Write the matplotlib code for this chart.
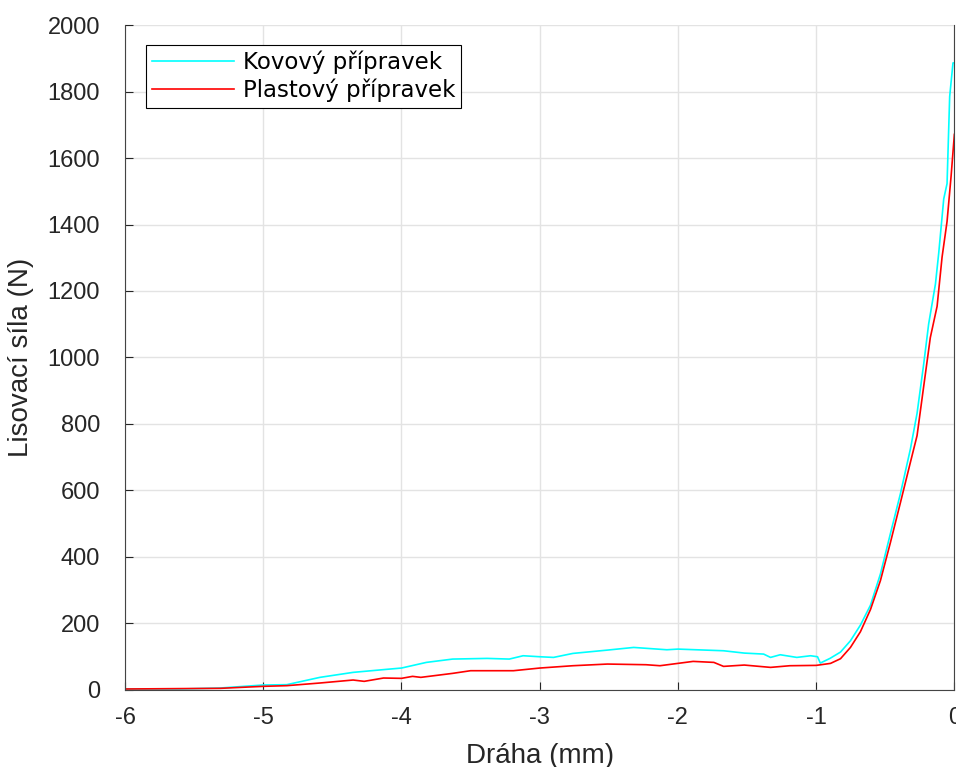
import numpy as np
import matplotlib.pyplot as plt

# Kovovy pripravek (cyan)
x_kov = [-6.0, -5.6, -5.31, -5.0, -4.83, -4.59, -4.35, -4.11, -4.0, -3.82, -3.63, -3.38,
         -3.22, -3.12, -3.0, -2.9, -2.76, -2.51, -2.32, -2.08, -2.0, -1.67, -1.52, -1.38,
         -1.33, -1.26, -1.14, -1.04, -0.99, -0.97, -0.90, -0.824, -0.752, -0.680, -0.607,
         -0.535, -0.463, -0.390, -0.318, -0.270, -0.222, -0.186, -0.137, -0.113, -0.077,
         -0.053, -0.034, -0.010, 0.0]
y_kov = [3, 3, 6, 15, 16, 38, 53, 62, 66, 83, 93, 95,
         93, 103, 100, 98, 110, 120, 128, 121, 123, 118, 111, 108,
         98, 106, 98, 103, 100, 81, 95, 114, 148, 195, 255,
         349, 470, 591, 725, 832, 980, 1101, 1221, 1315, 1477,
         1523, 1785, 1886, 1886]

# Plastovy pripravek (red)
x_pla = [-6.0, -5.31, -5.0, -4.83, -4.59, -4.35, -4.27, -4.13, -4.0, -3.92, -3.86, -3.63,
         -3.5, -3.19, -3.0, -2.76, -2.51, -2.23, -2.13, -1.89, -1.74, -1.67, -1.52, -1.33,
         -1.19, -1.0, -0.896, -0.824, -0.752, -0.680, -0.607, -0.535, -0.463, -0.390,
         -0.318, -0.270, -0.222, -0.174, -0.125, -0.089, -0.053, -0.024, 0.0]
y_pla = [3, 5, 11, 13, 21, 30, 26, 36, 35, 41, 38, 50,
         58, 58, 66, 73, 78, 76, 73, 86, 83, 71, 75, 68,
         73, 74, 80, 94, 128, 175, 242, 329, 443, 564,
         685, 765, 913, 1060, 1154, 1302, 1409, 1544, 1671]

x_ticks = [-6, -5, -4, -3, -2, -1, 0]
x_ticklabels = ['-6', '-5', '-4', '-3', '-2', '-1', '0']

plt.rcParams['font.family'] = ['Liberation Sans', 'DejaVu Sans']

fig = plt.figure(figsize=(9.56, 7.67), dpi=100)
ax = fig.add_axes([0.1308, 0.1004, 0.8675, 0.867])

ax.plot(x_kov, y_kov, color='cyan', lw=1.2, label='Kovový přípravek')
ax.plot(x_pla, y_pla, color='red', lw=1.2, label='Plastový přípravek')

ax.set_xlim(-6, 0)
ax.set_ylim(0, 2000)
ax.set_xticks(x_ticks)
ax.set_xticklabels(x_ticklabels)
ax.set_yticks(np.arange(0, 2001, 200))
ax.grid(True, color='#e3e3e3', lw=1)
ax.set_axisbelow(True)
ax.tick_params(direction='in', length=6, labelsize=17, colors='#262626')
ax.tick_params(axis='y', pad=18)
ax.tick_params(axis='x', pad=12)
for s in ['left', 'bottom', 'right']:
    ax.spines[s].set_color('#444444')
ax.spines['top'].set_visible(False)

ax.set_xlabel('Dráha (mm)', fontsize=20, color='#262626', labelpad=10)
ax.set_ylabel('Lisovací síla (N)', fontsize=20, color='#262626', labelpad=10)

leg = ax.legend(loc='upper left', bbox_to_anchor=(0.025, 0.97),
                prop={'family': 'DejaVu Sans', 'size': 16.5}, handlelength=3.6,
                fancybox=False, framealpha=1, borderaxespad=0, borderpad=0.25,
                labelspacing=0.2, handletextpad=0.4)
leg.get_frame().set_edgecolor('black')
leg.get_frame().set_linewidth(0.8)

fig.savefig('out.png', dpi=100)
